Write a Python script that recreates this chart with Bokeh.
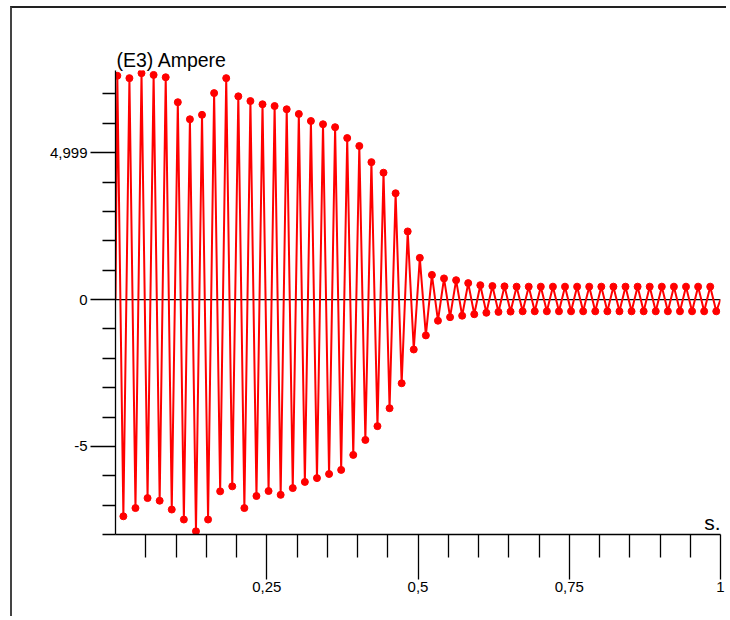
from bokeh.plotting import figure
from bokeh.models import Range1d, FixedTicker, Span, Label, LinearAxis, ColumnDataSource, Title
from bokeh.embed import file_html
from bokeh.resources import INLINE

# ---- data (per-cycle extremes of the current, Ampere) ----
peak_t = [0.003, 0.023, 0.043, 0.063, 0.083, 0.103, 0.123, 0.143, 0.163, 0.183,
          0.203, 0.223, 0.243, 0.263, 0.283, 0.303, 0.323, 0.343, 0.363, 0.383,
          0.403, 0.423, 0.443, 0.463, 0.483, 0.503, 0.523, 0.543, 0.563, 0.583,
          0.603, 0.623, 0.643, 0.663, 0.683, 0.703, 0.723, 0.743, 0.763, 0.783,
          0.803, 0.823, 0.843, 0.863, 0.883, 0.903, 0.923, 0.943, 0.963, 0.983]
peak_v = [7.62, 7.54, 7.71, 7.65, 7.57, 6.72, 6.14, 6.29, 7.03, 7.54,
          6.92, 6.76, 6.65, 6.59, 6.48, 6.32, 6.08, 5.97, 5.87, 5.50,
          5.23, 4.68, 4.32, 3.62, 2.32, 1.42, 0.84, 0.72, 0.66, 0.56,
          0.49, 0.46, 0.45, 0.44, 0.44, 0.44, 0.44, 0.44, 0.44, 0.44,
          0.44, 0.44, 0.44, 0.44, 0.44, 0.44, 0.44, 0.44, 0.44, 0.44]
trough_t = [0.013, 0.033, 0.053, 0.073, 0.093, 0.113, 0.133, 0.153, 0.173, 0.193,
            0.213, 0.233, 0.253, 0.273, 0.293, 0.313, 0.333, 0.353, 0.373, 0.393,
            0.413, 0.433, 0.453, 0.473, 0.493, 0.513, 0.533, 0.553, 0.573, 0.593,
            0.613, 0.633, 0.653, 0.673, 0.693, 0.713, 0.733, 0.753, 0.773, 0.793,
            0.813, 0.833, 0.853, 0.873, 0.893, 0.913, 0.933, 0.953, 0.973, 0.993]
trough_v = [-7.38, -7.10, -6.76, -6.85, -7.15, -7.49, -7.89, -7.49, -6.53, -6.36,
            -7.10, -6.69, -6.52, -6.65, -6.42, -6.21, -6.08, -5.94, -5.80, -5.29,
            -4.78, -4.31, -3.70, -2.85, -1.70, -1.22, -0.72, -0.60, -0.55, -0.50,
            -0.45, -0.42, -0.41, -0.40, -0.40, -0.40, -0.40, -0.40, -0.40, -0.40,
            -0.40, -0.40, -0.40, -0.40, -0.40, -0.40, -0.40, -0.40, -0.40, -0.40]
start_point = (0.0, 0.0)
end_point = (1.0, 0.0)

# ---- axis ticks / labels ----
y_major = [-5, 0, 5]
y_minor = [-8, -7, -6, -4, -3, -2, -1, 1, 2, 3, 4, 6, 7]
y_labels = {-5: "-5", 0: "0", 5: "4,999"}
x_major = [0.25, 0.5, 0.75, 1.0]
x_minor = [0.05, 0.1, 0.15, 0.2, 0.3, 0.35, 0.4, 0.45, 0.55, 0.6,
           0.65, 0.7, 0.8, 0.85, 0.9, 0.95]
x_labels = {0.25: "0,25", 0.5: "0,5", 0.75: "0,75", 1.0: "1"}
y_title = "(E3) Ampere"
x_title = "s."

# interleave peaks and troughs into one time series
ts = [start_point[0]]
vs = [start_point[1]]
for pt, pv, tt, tv in zip(peak_t, peak_v, trough_t, trough_v):
    ts += [pt, tt]
    vs += [pv, tv]
ts.append(end_point[0])
vs.append(end_point[1])
src = ColumnDataSource(data=dict(t=ts, v=vs))
pts = ColumnDataSource(data=dict(t=ts[1:-1], v=vs[1:-1]))

FONT = "Liberation Sans"

p = figure(width=716, height=610, x_range=Range1d(0, 1), y_range=Range1d(-8, 7.8),
           x_axis_type=None, y_axis_type=None,
           output_backend="svg", toolbar_location=None,
           min_border_left=103, min_border_right=8, min_border_top=62, min_border_bottom=84)
p.outline_line_color = None
p.background_fill_color = "white"
p.border_fill_color = "white"
p.styles = {"margin-left": "10px", "margin-top": "6px",
            "border-top": "2px solid #222222", "border-left": "2px solid #444444"}

p.title = Title(text=y_title, align="left", offset=1, standoff=0,
                text_font=FONT, text_font_size="19.5px", text_font_style="normal",
                text_color="black", vertical_align="bottom")

yax = LinearAxis(ticker=FixedTicker(ticks=y_major, minor_ticks=y_minor),
                 major_tick_out=25, major_tick_in=0, minor_tick_out=13, minor_tick_in=0,
                 axis_line_color="black", axis_line_width=1.3,
                 major_tick_line_color="black", major_tick_line_width=1.3,
                 minor_tick_line_color="black", minor_tick_line_width=1.3,
                 major_label_standoff=3, major_label_overrides=y_labels,
                 major_label_text_font=FONT, major_label_text_font_size="15px",
                 major_label_text_color="black")
xax = LinearAxis(ticker=FixedTicker(ticks=x_major, minor_ticks=x_minor),
                 major_tick_out=45, major_tick_in=0, minor_tick_out=23, minor_tick_in=0,
                 axis_line_color="black", axis_line_width=1.3,
                 major_tick_line_color="black", major_tick_line_width=1.3,
                 minor_tick_line_color="black", minor_tick_line_width=1.3,
                 major_label_standoff=2, major_label_overrides=x_labels,
                 major_label_text_font=FONT, major_label_text_font_size="15px",
                 major_label_text_color="black")
p.add_layout(yax, "left")
p.add_layout(xax, "below")

p.add_layout(Span(location=0, dimension="width", line_color="black", line_width=1.2,
                  level="underlay"))

p.line("t", "v", source=src, line_color="#ff0000", line_width=2)
p.scatter("t", "v", source=pts, marker="circle", size=7, fill_color="#ff0000",
          line_color="#ff0000")

p.add_layout(Label(x=1, y=-8, text=x_title, x_offset=0, y_offset=1,
                   text_font=FONT, text_font_size="21px", text_color="black",
                   text_baseline="bottom", text_align="right"))

open("out.html", "w").write(file_html(p, INLINE))
